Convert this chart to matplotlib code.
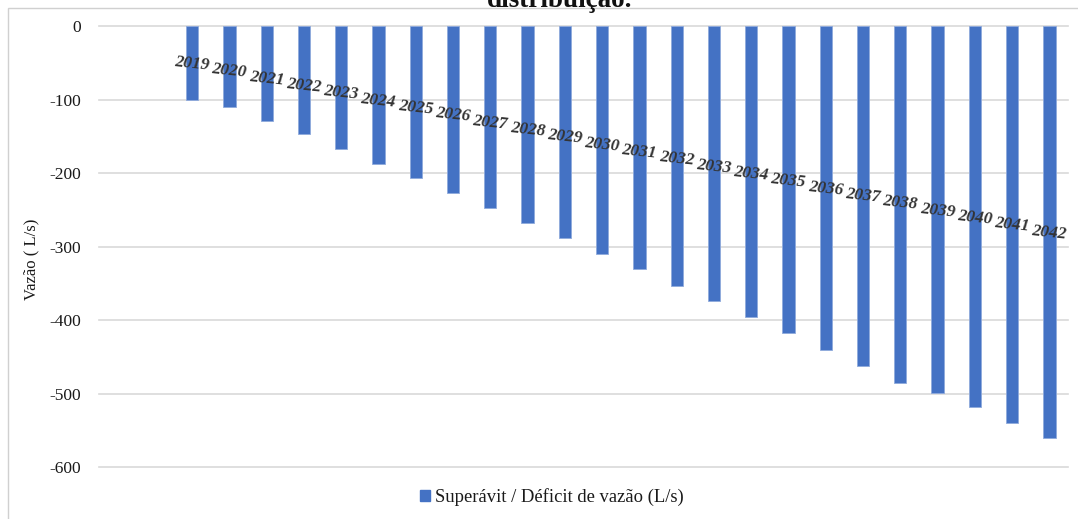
import numpy as np
import matplotlib
matplotlib.use("Agg")
import matplotlib.pyplot as plt
from matplotlib.patches import Rectangle, Patch

# Projected flow balance per year (L/s)
years = ["2019", "2020", "2021", "2022", "2023", "2024", "2025", "2026",
         "2027", "2028", "2029", "2030", "2031", "2032", "2033", "2034",
         "2035", "2036", "2037", "2038", "2039", "2040", "2041", "2042"]
balance = [-100, -110, -129, -147, -167, -187, -207, -227,
           -247, -268, -288, -310, -331, -353, -374, -396,
           -418, -441, -462, -486, -499, -519, -540, -561]
y_ticks = [0, -100, -200, -300, -400, -500, -600]

title_text = "distribuição."
y_label = "Vazão ( L/s)"
series_name = "Superávit / Déficit de vazão (L/s)"

BAR = "#4472C4"
GRID = "#d9d9d9"
TEXT = "#1a1a1a"
LABEL = "#333333"

plt.rcParams["font.family"] = ["Liberation Serif", "DejaVu Serif"]

W, H = 1078, 519
fig = plt.figure(figsize=(W / 100, H / 100), dpi=100)

# chart frame
fig.patches.append(Rectangle((8 / W, -0.05), 1.2, 1.05 - 8 / H,
                             transform=fig.transFigure, fill=False,
                             edgecolor="#d0d0d0", linewidth=1.0))
fig.text(560 / W, 1 - 7 / H, title_text, ha="center", va="baseline",
         fontsize=19.5, fontweight="bold", color="#111111")

ax = fig.add_axes([99 / W, 1 - 467 / H, (1068 - 99) / W, (467 - 26.2) / H])
x = np.arange(len(years))
ax.bar(x, balance, width=0.33, color=BAR, edgecolor="#8faadc",
       linewidth=0.6, zorder=3)

ax.set_xlim(-2.5, len(years) - 0.5)
ax.set_ylim(-600, 0)
ax.set_yticks(y_ticks)
ax.set_yticklabels([str(v) for v in y_ticks])
ax.tick_params(axis="y", length=0, pad=13, labelsize=12.5, labelcolor=TEXT)
ax.set_xticks([])
for v in y_ticks:
    ax.axhline(v, color=GRID, linewidth=1.2, zorder=0, clip_on=False)
for s in ax.spines.values():
    s.set_visible(False)
ax.set_ylabel(y_label, fontsize=12, color=TEXT)
ax.yaxis.set_label_coords(-60 / (1068 - 99), 0.472)

# year labels along a descending line
label_y = np.linspace(-51, -281, len(years))
for xi, yr, ly in zip(x, years, label_y):
    ax.text(xi, ly, yr, ha="center", va="center", rotation=-6,
            fontsize=12.5, fontweight="bold", fontstyle="italic",
            color=LABEL, zorder=4)

handle = Patch(facecolor=BAR, edgecolor=BAR)
fig.legend([handle], [series_name], loc="center",
           bbox_to_anchor=(552 / W, 1 - 497 / H), frameon=False,
           fontsize=13.4, handlelength=0.55, handleheight=0.55,
           handletextpad=0.25, labelcolor=TEXT)

fig.savefig("out.png", dpi=100)
